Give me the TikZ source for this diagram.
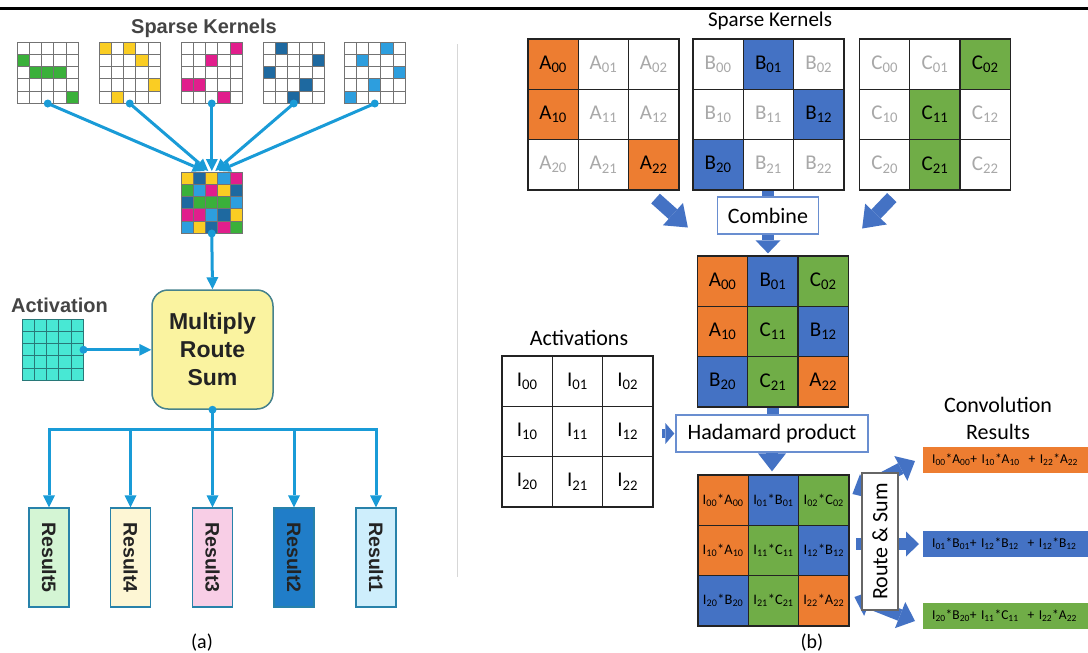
\documentclass[tikz,border=0pt]{standalone}
\usepackage{fontspec}
\setmainfont{Carlito}
\newfontfamily\arialf{Liberation Sans}
\usetikzlibrary{arrows.meta,calc}
\pgfdeclarelayer{bg}
\pgfsetlayers{bg,main}
\definecolor{kgr}{RGB}{58,176,58}
\definecolor{kye}{RGB}{250,205,35}
\definecolor{kmg}{RGB}{225,30,140}
\definecolor{kdb}{RGB}{30,105,160}
\definecolor{klb}{RGB}{45,158,222}
\definecolor{kgl}{RGB}{115,115,115}
\definecolor{acy}{RGB}{25,155,215}
\definecolor{tq}{RGB}{72,232,212}
\definecolor{tqline}{RGB}{40,120,120}
\definecolor{ybox}{RGB}{250,243,160}
\definecolor{yboxd}{RGB}{70,130,140}
\definecolor{rbd}{RGB}{40,130,170}
\definecolor{rfive}{RGB}{212,245,212}
\definecolor{rfour}{RGB}{253,246,212}
\definecolor{rthree}{RGB}{248,206,230}
\definecolor{rtwo}{RGB}{32,125,200}
\definecolor{rone}{RGB}{206,238,252}
\definecolor{cor}{RGB}{237,125,49}
\definecolor{cbl}{RGB}{68,114,196}
\definecolor{cgr}{RGB}{112,173,71}
\definecolor{lgt}{RGB}{168,168,168}
\definecolor{dk}{RGB}{35,35,35}
\definecolor{tgray}{RGB}{68,68,68}
\definecolor{sepc}{RGB}{215,215,215}
\newcommand\sbx[1]{\textsubscript{#1}}
\newcommand\fsz[2]{\fontsize{#1}{#2}\selectfont}
\newcommand\kgrid[3]{%
  \foreach \gi in {0,...,5}{%
    \draw[#3, line width=0.9pt] ({#1+\gi*12.3},#2) -- ({#1+\gi*12.3},{#2+61.5});
    \draw[#3, line width=0.9pt] (#1,{#2+\gi*12.3}) -- ({#1+61.5},{#2+\gi*12.3});
  }}
\newcommand\kcell[5]{\fill[#5] ({#1+#3*12.3},{#2+#4*12.3}) rectangle ++(12.3,12.3);}
\begin{document}
\begin{tikzpicture}[x=1pt,y=-1pt,
  gnode/.style={minimum size=61.5pt, inner sep=0pt, outer sep=0pt},
  cyl/.style={draw=acy, line width=3pt},
  cyar/.style={cyl, -{Triangle[line width=0pt,width=12pt,length=12pt]}},
  rbox/.style={draw=rbd, line width=1.3pt, minimum width=40pt, minimum height=99pt, inner sep=0pt, font=\arialf\bfseries\fsz{19.5}{22}, text=dk},
  mcell/.style={draw=dk, line width=1.3pt, minimum width=50.3pt, minimum height=50.3pt, inner sep=0pt, font=\fsz{21}{25}},
  pcell/.style={mcell, font=\fsz{14.5}{17}},
  opbox/.style={draw=cbl!80, line width=1.3pt, fill=white, inner sep=0pt, font=\fsz{22}{26}},
  blk/.style={draw=cbl, line width=12pt, -{Triangle[line width=0pt,length=13pt,width=25pt]}},
  blkH/.style={draw=cbl, line width=12pt, -{Triangle[line width=0pt,length=18pt,width=28pt]}},
  blkD/.style={draw=cbl, line width=13pt, -{Triangle[line width=0pt,length=20pt,width=30pt]}},
  blkS/.style={draw=cbl, line width=9pt, -{Triangle[line width=0pt,length=9pt,width=21pt]}},
  stub/.style={draw=cbl, line width=12pt},
  dblk/.style={draw=cbl, line width=12pt, {Triangle[line width=0pt,length=16pt,width=28pt]}-{Triangle[line width=0pt,length=16pt,width=28pt]}},
  bar/.style={anchor=west, minimum height=26pt, text width=170pt, inner xsep=9pt, inner ysep=0pt, align=left, font=\fsz{13.5}{16}}
]
\useasboundingbox (0,0) rectangle (1088,653);
% top rule and separator
\fill[black] (0,6.8) rectangle (1088,10.3);
\draw[sepc, line width=1pt] (457,44) -- (457,577);

% ================= (a) =================
\node[font=\arialf\bfseries\fsz{20}{24}, text=tgray] (skl) at (204,28) {Sparse Kernels};
\foreach \co/\ro in {0/1,1/2,2/2,3/2,4/4}{\kcell{17}{42}{\co}{\ro}{kgr}}
\foreach \co/\ro in {0/0,2/0,3/1,4/3,1/4}{\kcell{99}{42}{\co}{\ro}{kye}}
\foreach \co/\ro in {4/0,2/1,0/3,1/3,3/4}{\kcell{181}{42}{\co}{\ro}{kmg}}
\foreach \co/\ro in {1/0,4/1,0/2,3/3,2/4}{\kcell{263}{42}{\co}{\ro}{kdb}}
\foreach \co/\ro in {3/0,1/1,4/2,2/3,0/4}{\kcell{344}{42}{\co}{\ro}{klb}}
\foreach \gx in {17,99,181,263,344}{\kgrid{\gx}{42}{kgl}}
\node[gnode] (k1) at (47.75,72.75) {};
\node[gnode] (k2) at (129.75,72.75) {};
\node[gnode] (k3) at (211.75,72.75) {};
\node[gnode] (k4) at (293.75,72.75) {};
\node[gnode] (k5) at (374.75,72.75) {};
% combined kernel
\foreach \rowlist [count=\ro from 0] in {{kye,kdb,kye,klb,kmg},{kgr,klb,kmg,kye,kdb},{kdb,kgr,kgr,kgr,klb},{kmg,kmg,klb,kdb,kye},{klb,kye,kdb,kmg,kgr}}{%
  \foreach \cl [count=\co from 0] in \rowlist {\kcell{181}{172}{\co}{\ro}{\cl}}}
\kgrid{181}{172}{kgl}
\node[gnode] (comb) at (211.75,202.75) {};
% multiply box
\node[draw=yboxd, fill=ybox, line width=1.5pt, rounded corners=16pt, minimum width=121pt, minimum height=119pt, align=center, font=\arialf\bfseries\fsz{23}{28}, text=dk] (mrs) at (212.5,349.5) {Multiply\\Route\\Sum};
% activation
\node[font=\arialf\bfseries\fsz{20}{24}, text=tgray] (actl) at (59.5,305) {Activation};
\fill[tq] (22,319) rectangle (83.5,380.5);
\kgrid{22}{319}{tqline}
\node[gnode] (act) at (52.75,349.75) {};
% results
\node[rbox, fill=rfive] (r5) at (49,557.5) {\rotatebox{-90}{Result5}};
\node[rbox, fill=rfour] (r4) at (130.5,557.5) {\rotatebox{-90}{Result4}};
\node[rbox, fill=rthree] (r3) at (212.5,557.5) {\rotatebox{-90}{Result3}};
\node[rbox, fill=rtwo] (r2) at (294,557.5) {\rotatebox{-90}{Result2}};
\node[rbox, fill=rone] (r1) at (376,557.5) {\rotatebox{-90}{Result1}};
\node[font=\fsz{20}{24}] (la) at (202,643) {(a)};
% connectors (a)
\foreach \k/\dx in {k1/-7,k2/-3.5,k3/0,k4/3.5,k5/7}{%
  \draw[cyar] (\k.south) -- ($(comb.north)+(\dx,-1)$);
  \fill[acy] (\k.south) circle[radius=4pt];}
\draw[cyar] (comb.south) -- (mrs.north);
\fill[acy] (comb.south) circle[radius=4pt];
\draw[cyar] (act.east) -- (act.east -| mrs.west);
\fill[acy] (act.east) circle[radius=4pt];
\foreach \n in {r1,r2,r3,r4,r5}{\draw[cyar] (mrs.south) -- ++(0,20) -| (\n.north);}
\fill[acy] (mrs.south) circle[radius=4pt];

% ================= (b) =================
\node[font=\fsz{21}{25}] (skr) at (770,21) {Sparse Kernels};
\foreach \ro/\co/\fc/\tc in {0/0/cor/black,0/1/white/lgt,0/2/white/lgt,1/0/cor/black,1/1/white/lgt,1/2/white/lgt,2/0/white/lgt,2/1/white/lgt,2/2/cor/black}
  \node[mcell,fill=\fc,text=\tc] (A\ro\co) at ({553.15+\co*50.3},{64.15+\ro*50.3}) {A\sbx{\ro\co}};
\foreach \ro/\co/\fc/\tc in {0/0/white/lgt,0/1/cbl/black,0/2/white/lgt,1/0/white/lgt,1/1/white/lgt,1/2/cbl/black,2/0/cbl/black,2/1/white/lgt,2/2/white/lgt}
  \node[mcell,fill=\fc,text=\tc] (B\ro\co) at ({718.15+\co*50.3},{64.15+\ro*50.3}) {B\sbx{\ro\co}};
\foreach \ro/\co/\fc/\tc in {0/0/white/lgt,0/1/white/lgt,0/2/cgr/black,1/0/white/lgt,1/1/cgr/black,1/2/white/lgt,2/0/white/lgt,2/1/cgr/black,2/2/white/lgt}
  \node[mcell,fill=\fc,text=\tc] (C\ro\co) at ({884.65+\co*50.3},{64.15+\ro*50.3}) {C\sbx{\ro\co}};
\node[opbox, minimum width=101pt, minimum height=37pt] (cmb) at (768,215.5) {Combine};
% combined matrix
\foreach \ro/\co/\fc/\lt in {0/0/cor/A,0/1/cbl/B,0/2/cgr/C,1/0/cor/A,1/1/cgr/C,1/2/cbl/B,2/0/cbl/B,2/1/cgr/C,2/2/cor/A}
  \node[mcell,fill=\fc] (M\ro\co) at ({722.65+\co*50.3},{281.15+\ro*50.3}) {\lt\sbx{\ro\co}};
% activations
\node[font=\fsz{22}{26}] (actr) at (579,338) {Activations};
\foreach \ro in {0,1,2}{\foreach \co in {0,1,2}{%
  \node[mcell,fill=white] (I\ro\co) at ({527.15+\co*50.3},{381.15+\ro*50.3}) {I\sbx{\ro\co}};}}
\node[opbox, minimum width=192pt, minimum height=37pt] (had) at (772,433.5) {Hadamard product};
% product matrix
\foreach \ro/\co/\fc/\lt in {0/0/cor/A,0/1/cbl/B,0/2/cgr/C,1/0/cor/A,1/1/cgr/C,1/2/cbl/B,2/0/cbl/B,2/1/cgr/C,2/2/cor/A}
  \node[pcell,fill=\fc] (P\ro\co) at ({723.15+\co*50.3},{500.15+\ro*50.3}) {I\sbx{\ro\co}*\lt\sbx{\ro\co}};
\node[font=\fsz{20}{24}] (lb) at (812,643) {(b)};
% route & sum
\node[draw=black!60, line width=1.2pt, fill=white, minimum width=36pt, minimum height=137pt, inner sep=0pt, font=\fsz{22}{26}] (route) at (880,541.5) {\rotatebox{90}{Route \& Sum}};
% convolution results
\node[align=center, font=\fsz{22}{27}] (cvt) at (998,418.5) {Convolution\\Results};
\node[bar, fill=cor] (cv1) at (923,460) {I\sbx{00}*A\sbx{00}+ I\sbx{10}*A\sbx{10} \ + I\sbx{22}*A\sbx{22}};
\node[bar, fill=cbl] (cv2) at (923,544) {I\sbx{01}*B\sbx{01}+ I\sbx{12}*B\sbx{12} \ + I\sbx{12}*B\sbx{12}};
\node[bar, fill=cgr] (cv3) at (923,615.5) {I\sbx{20}*B\sbx{20}+ I\sbx{11}*C\sbx{11} \ + I\sbx{22}*A\sbx{22}};
% visible block arrows
\draw[blkD] ($(A22.south east)+(-24,8)$) -- ($(cmb.west)+(-29,12)$);
\draw[blkD] ($(C20.south west)+(33,7)$) -- ($(cmb.east)+(43,13)$);
\draw[blk] (cmb.south) -- ($(cmb.south |- M01.north)+(0,-2)$);
\draw[blkH] (had.south) -- ($(had.south |- P01.north)+(0,-3)$);
\draw[blkS] ($(had.west)+(-13,0)$) -- ($(had.west)+(-1,0)$);
% hidden parts behind boxes
\begin{pgfonlayer}{bg}
\draw[stub] (B21.south) -- ($(B21.south |- cmb.north)+(0,4)$);
\draw[stub] (M21.south) -- ($(M21.south |- had.north)+(0,4)$);
\draw[dblk] ($(route.west)+(-9,-47.5)$) -- ($(cv1.west)+(-8,1)$);
\draw[blk] ($(route.west)+(-5,2.5)$) -- ($(cv2.west)+(-4,0)$);
\draw[dblk] ($(route.west)+(-7,55.5)$) -- ($(cv3.west)+(-8,5.5)$);
\end{pgfonlayer}
\end{tikzpicture}
\end{document}
